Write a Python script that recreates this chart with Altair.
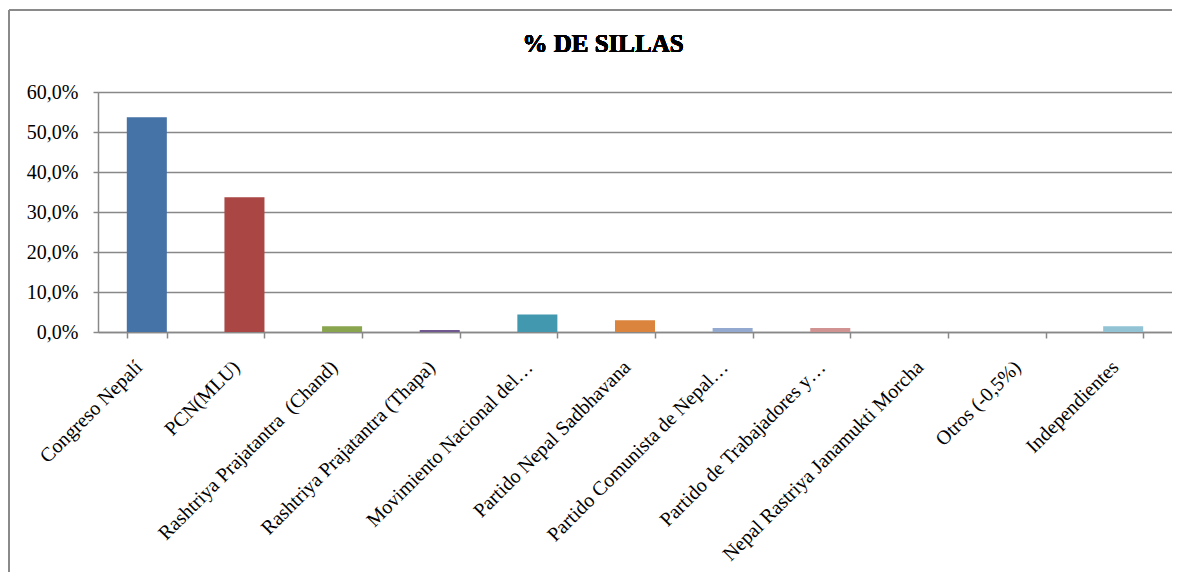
import altair as alt
import pandas as pd

categories = [
    "Congreso Nepalí",
    "PCN(MLU)",
    "Rashtriya Prajatantra\u00a0 (Chand)",
    "Rashtriya Prajatantra (Thapa)",
    "Movimiento Nacional del…",
    "Partido Nepal Sadbhavana",
    "Partido Comunista de Nepal…",
    "Partido de Trabajadores y…",
    "Nepal Rastriya Janamukti Morcha",
    "Otros (-0,5%)",
    "Independientes",
]
values = [53.66, 33.66, 1.46, 0.49, 4.39, 2.93, 0.98, 0.98, 0.0, 0.0, 1.46]
colors = ["#4572A7", "#AA4643", "#89A54E", "#71588F", "#4198AF", "#DB843D",
          "#93A9CF", "#D19392", "#B9CD96", "#A99BBD", "#92C3D5"]
y_ticks = [0, 10, 20, 30, 40, 50, 60]
title_text = "% DE SILLAS"

df = pd.DataFrame({"partido": categories, "pct": values})

FONT = "Liberation Serif"
W, H = 1074, 240
PADL, PADT, PADB = 90, 84, 240

border_top = alt.Chart(df).mark_rule(
    stroke="#8a8a8a", strokeWidth=1.2, clip=False
).encode(x=alt.value(-89), x2=alt.value(W), y=alt.value(-82), y2=alt.value(-82))

border_left = alt.Chart(df).mark_rule(
    stroke="#8a8a8a", strokeWidth=1.2, clip=False
).encode(x=alt.value(-89), x2=alt.value(-89), y=alt.value(-82), y2=alt.value(H + PADB))

title = alt.Chart(df).mark_text(
    text=title_text, font=FONT, fontSize=25, fontWeight="bold", color="#000000",
    align="center", baseline="alphabetic"
).encode(x=alt.value(603 - 8 - PADL), y=alt.value(-40))

bars = alt.Chart(df).mark_bar().encode(
    x=alt.X("partido:N", sort=categories,
            scale=alt.Scale(paddingInner=0.59, paddingOuter=0.295),
            axis=alt.Axis(title=None, labelAngle=-45, labelAlign="right",
                          labelBaseline="alphabetic", labelFont=FONT, labelFontSize=20,
                          labelColor="#000000", labelLimit=400, labelPadding=30,
                          labelOffset=-4,
                          tickBand="extent", tickSize=6, tickColor="#888888",
                          tickWidth=1.5, domainColor="#888888", domainWidth=1.5,
                          labelOverlap=False)),
    y=alt.Y("pct:Q", scale=alt.Scale(domain=[0, 60], nice=False),
            axis=alt.Axis(title=None, values=y_ticks,
                          labelExpr="replace(format(datum.value, '.1f'), '.', ',') + '%'",
                          labelFont=FONT, labelFontSize=20, labelColor="#000000",
                          labelPadding=15, tickSize=5, tickColor="#888888",
                          tickWidth=1.5, domainColor="#888888", domainWidth=1.5,
                          grid=True, gridColor="#888888", gridWidth=1.5)),
    color=alt.Color("partido:N", sort=categories,
                    scale=alt.Scale(domain=categories, range=colors), legend=None),
)

chart = alt.layer(border_top, border_left, title, bars).properties(
    width=W, height=H,
    autosize=alt.AutoSizeParams(type="none"),
    padding={"left": PADL, "top": PADT, "right": 0, "bottom": PADB},
).configure_view(stroke=None).configure(background="white")

chart.save("out.html", embed_options={"renderer": "svg", "actions": False})
